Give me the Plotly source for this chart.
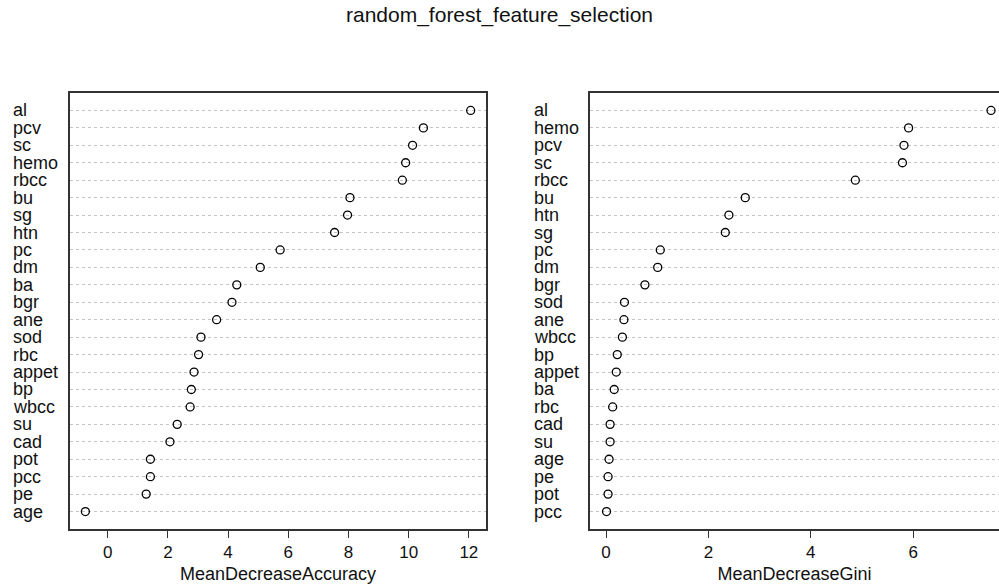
import plotly.graph_objects as go

# Left panel: MeanDecreaseAccuracy (top to bottom order)
acc_features = ["al", "pcv", "sc", "hemo", "rbcc", "bu", "sg", "htn", "pc", "dm", "ba", "bgr",
                "ane", "sod", "rbc", "appet", "bp", "wbcc", "su", "cad", "pot", "pcc", "pe", "age"]
acc_values = [12.06, 10.49, 10.13, 9.90, 9.79, 8.05, 7.97, 7.54, 5.73, 5.07, 4.29, 4.13,
              3.62, 3.10, 3.02, 2.87, 2.78, 2.74, 2.31, 2.07, 1.42, 1.42, 1.28, -0.74]

# Right panel: MeanDecreaseGini (top to bottom order)
gini_features = ["al", "hemo", "pcv", "sc", "rbcc", "bu", "htn", "sg", "pc", "dm", "bgr", "sod",
                 "ane", "wbcc", "bp", "appet", "ba", "rbc", "cad", "su", "age", "pe", "pot", "pcc"]
gini_values = [7.52, 5.91, 5.82, 5.79, 4.87, 2.72, 2.40, 2.33, 1.06, 1.01, 0.76, 0.36,
               0.35, 0.32, 0.22, 0.20, 0.16, 0.13, 0.08, 0.08, 0.06, 0.04, 0.04, 0.01]

acc_ticks = [0, 2, 4, 6, 8, 10, 12]
gini_ticks = [0, 2, 4, 6]

FONT = "Liberation Sans, Arial, sans-serif"
AXC = "#333333"
TXT = "#111111"

fig = go.Figure()
marker = dict(symbol="circle-open", size=8, color="black", line=dict(width=1.3, color="black"))
fig.add_trace(go.Scatter(x=acc_values, y=acc_features, mode="markers", marker=marker,
                         xaxis="x", yaxis="y", showlegend=False, cliponaxis=False))
fig.add_trace(go.Scatter(x=gini_values, y=gini_features, mode="markers", marker=marker,
                         xaxis="x2", yaxis="y2", showlegend=False, cliponaxis=False))

xcommon = dict(showgrid=False, zeroline=False, showline=True, mirror=True,
               linecolor=AXC, linewidth=1.8, ticks="outside", ticklen=7,
               tickcolor=AXC, tickwidth=1.3,
               tickfont=dict(family=FONT, size=17, color=TXT),
               title_font=dict(family=FONT, size=18, color=TXT),
               title_standoff=6)
ycommon = dict(type="category", showgrid=True, gridcolor="#c4c4c4", griddash="dot",
               gridwidth=1, showticklabels=False, ticks="", zeroline=False,
               showline=True, linecolor=AXC, linewidth=1.8, range=[-1, 24])

fig.update_layout(
    width=999, height=584,
    paper_bgcolor="white", plot_bgcolor="white",
    margin=dict(l=0, r=0, t=93, b=55),
    title=dict(text="random_forest_feature_selection", x=0.5, xanchor="center",
               y=0.975, yanchor="middle",
               font=dict(family=FONT, size=21, color=TXT)),
    xaxis=dict(domain=[0.0698, 0.4868], range=[-1.26, 12.58], tickvals=acc_ticks,
               title_text="MeanDecreaseAccuracy", anchor="y", **xcommon),
    yaxis=dict(domain=[0, 1], anchor="x", mirror=True,
               categoryorder="array", categoryarray=acc_features[::-1], **ycommon),
    xaxis2=dict(domain=[0.5906, 1.0], range=[-0.3125, 7.676], tickvals=gini_ticks,
                title_text="MeanDecreaseGini", anchor="y2", **xcommon),
    yaxis2=dict(domain=[0, 1], anchor="x2", mirror=False,
                categoryorder="array", categoryarray=gini_features[::-1], **ycommon),
)

annotations = []
for f in acc_features:
    annotations.append(dict(text=f, x=0.011, xref="paper", xanchor="left",
                            y=f, yref="y", yanchor="middle", showarrow=False,
                            font=dict(family=FONT, size=18, color=TXT)))
for f in gini_features:
    annotations.append(dict(text=f, x=0.5325, xref="paper", xanchor="left",
                            y=f, yref="y2", yanchor="middle", showarrow=False,
                            font=dict(family=FONT, size=18, color=TXT)))
fig.update_layout(annotations=annotations)

fig.write_html("out.html", config={"displayModeBar": False},
               post_script="document.body.style.margin='0px';document.body.style.overflow='hidden';")
